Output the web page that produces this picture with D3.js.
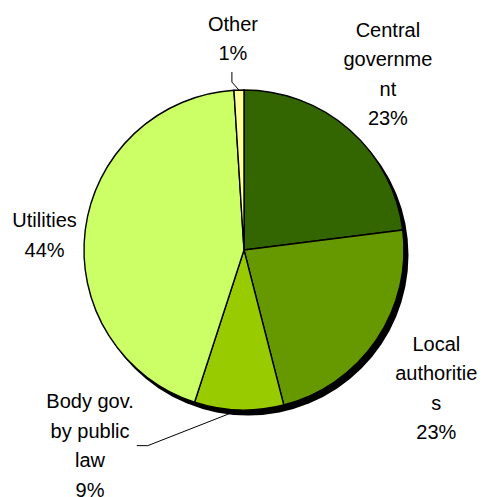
<!DOCTYPE html>
<html>
<head>
<meta charset="utf-8">
<script src="https://cdn.jsdelivr.net/npm/d3@7"></script>
<style>
  html, body { margin: 0; padding: 0; background: #fff; }
  svg { display: block; }
  text { font-family: "Liberation Sans", Arial, sans-serif; font-size: 20px; fill: #000; }
</style>
</head>
<body>
<svg id="chart" width="482" height="497"></svg>
<script>
// Share of spending by type of contracting body (%)
const categories = ["Central government", "Local authorities", "Body gov. by public law", "Utilities", "Other"];
const values = [23, 23, 9, 44, 1];
const colors = ["#336600", "#669900", "#99CC00", "#CCFF66", "#FFFF99"];

// Label text as wrapped in the chart
const labelLines = [
  ["Central", "governme", "nt"],
  ["Local", "authoritie", "s"],
  ["Body gov.", "by public", "law"],
  ["Utilities"],
  ["Other"]
];

// Label placement: distance from centre (in radii) and angular nudge (degrees)
const labelDist = [1.42, 1.48, 1.556, 1.25, 1.325];
const labelNudge = [-2.1, 1.5, 36.4, -2.9, -1.2];
const leaderSide = [null, null, "right", null, "below"];

const width = 482, height = 497;
const cx = 244, cy = 250, radius = 160;
const lineH = 29.5;

const svg = d3.select("#chart");
const g = svg.append("g").attr("transform", `translate(${cx},${cy})`);

const pie = d3.pie().sort(null).value(d => d)
  .startAngle(0).endAngle(2 * Math.PI);
const arcs = pie(values);
const arc = d3.arc().innerRadius(0).outerRadius(radius);

// drop shadow
g.append("circle")
  .attr("cx", 4).attr("cy", 5).attr("r", radius + 0.5)
  .attr("fill", "#000");

// slices
g.selectAll("path.slice")
  .data(arcs)
  .join("path")
  .attr("class", "slice")
  .attr("d", arc)
  .attr("fill", (d, i) => colors[i])
  .attr("stroke", "#000")
  .attr("stroke-width", 1.4)
  .attr("stroke-linejoin", "round");

const fmt = d3.format(".0f");

function polar(angle, r) {
  return [r * Math.sin(angle), -r * Math.cos(angle)];
}

arcs.forEach((d, i) => {
  const mid = (d.startAngle + d.endAngle) / 2;
  const a = mid + labelNudge[i] * Math.PI / 180;
  const [lx, ly] = polar(a, radius * labelDist[i]);
  const lines = labelLines[i].concat([fmt(values[i]) + "%"]);
  const firstBase = ly - (lines.length - 1) * lineH / 2 + 7;

  const t = g.append("text")
    .attr("text-anchor", "middle");
  lines.forEach((s, k) => {
    t.append("tspan")
      .attr("x", lx)
      .attr("y", firstBase + k * lineH)
      .text(s);
  });

  if (leaderSide[i]) {
    const bb = t.node().getBBox();
    const [ex, ey] = polar(mid, radius);
    let pts;
    if (leaderSide[i] === "right") {
      const sx = bb.x + bb.width + 3;
      pts = [[sx, ly], [sx + 11, ly], [ex, ey]];
    } else {
      const sy = firstBase + (lines.length - 1) * lineH + 12;
      pts = [[lx - 1, sy], [lx - 1, sy + 10], [ex, ey]];
    }
    g.append("path")
      .attr("d", d3.line()(pts))
      .attr("fill", "none")
      .attr("stroke", "#000")
      .attr("stroke-width", 1);
  }
});
</script>
</body>
</html>
